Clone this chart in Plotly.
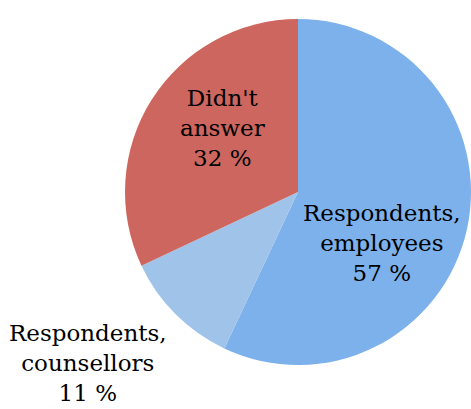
import plotly.graph_objects as go

categories = ["Respondents,<br>employees", "Respondents,<br>counsellors", "Didn't<br>answer"]
values = [57, 11, 32]
colors = ["#7db1ec", "#a0c3e9", "#cd665e"]

# label anchor positions (paper coordinates)
label_x = [382 / 471, 88 / 471, 222 / 471]
label_y = [1 - 243 / 409, 1 - 363 / 409, 1 - 128 / 409]

fig = go.Figure(
    go.Pie(
        labels=categories,
        values=values,
        sort=False,
        direction="clockwise",
        rotation=0,
        marker=dict(colors=colors, line=dict(width=0)),
        textinfo="none",
        hoverinfo="label+percent",
        domain=dict(x=[125 / 471, 1], y=[(217 - 185) / 409, (217 + 185) / 409]),
        showlegend=False,
    )
)

for cat, v, x, y in zip(categories, values, label_x, label_y):
    fig.add_annotation(
        x=x, y=y, xref="paper", yref="paper",
        text=f"{cat}<br>{v} %",
        showarrow=False,
        xanchor="center", yanchor="middle",
        font=dict(family="DejaVu Serif", size=23, color="#000000"),
    )

fig.update_layout(
    width=471, height=409,
    margin=dict(l=0, r=0, t=0, b=0),
    paper_bgcolor="white",
    plot_bgcolor="white",
)

fig.write_html("out.html")
